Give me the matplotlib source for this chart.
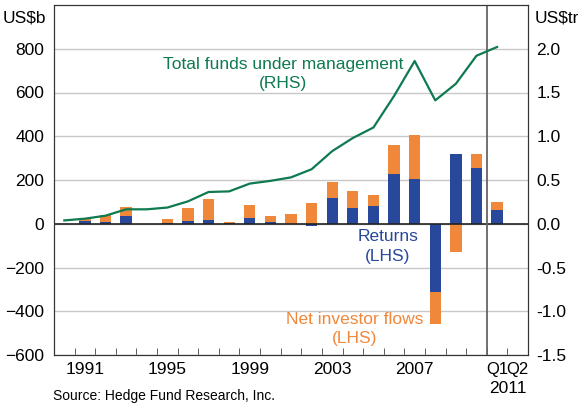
import matplotlib
matplotlib.use("Agg")
import matplotlib.pyplot as plt
import numpy as np

plt.rcParams['font.family'] = ['Liberation Sans', 'DejaVu Sans']

categories = ['1990', '1991', '1992', '1993', '1994', '1995', '1996', '1997', '1998', '1999',
              '2000', '2001', '2002', '2003', '2004', '2005', '2006', '2007', '2008', '2009',
              '2010', 'Q1', 'Q2']
returns = [0, 12, 6, 34, 0, 2, 11, 15, 2, 25,
           6, 0, -12, 119, 73, 83, 229, 206, -310, 321,
           257, 64, 0]
flows = [0, 10, 34, 41, 0, 18, 59, 96, 4, 59,
         28, 46, 96, 74, 78, 50, 129, 198, -150, -131,
         60, 37, 0]
funds = [0.038, 0.058, 0.092, 0.165, 0.165, 0.185, 0.256, 0.363, 0.37, 0.459,
         0.49, 0.53, 0.623, 0.83, 0.98, 1.10, 1.46, 1.86, 1.41, 1.60,
         1.92, 2.02, None]
tick_labels = {1: '1991', 5: '1995', 9: '1999', 13: '2003', 17: '2007', 21: 'Q1', 22: 'Q2'}

BLUE = '#28489C'
ORANGE = '#F0883C'
GREEN = '#0E7A50'
FS = 12.5

fig = plt.figure(figsize=(5.78, 4.04), dpi=100)
ax = fig.add_axes([54/578, 49/404, (528-54)/578, (355-5)/404])

x = np.arange(len(categories))
r = np.array(returns, dtype=float)
f = np.array(flows, dtype=float)
bottom_f = np.where(np.sign(r) == np.sign(f), r, 0.0)

ax.set_ylim(-600, 1000)
ax.set_xlim(-0.5, len(categories) - 0.5)
ax.set_yticks(np.arange(-600, 801, 200))
ax.yaxis.grid(True, color='#c8c8c8', lw=1.0)
ax.set_axisbelow(True)

w = 0.55
ax.bar(x, r, width=w, color=BLUE, zorder=2)
ax.bar(x, f, width=w, bottom=bottom_f, color=ORANGE, zorder=2)
ax.axhline(0, color='#222222', lw=1.2, zorder=3)
ax.axvline(20.5, color='#666666', lw=1.3, zorder=3)

ax.set_xticks(list(tick_labels.keys()))
ax.set_xticklabels(list(tick_labels.values()), fontsize=FS)
for lbl in ax.get_xticklabels():
    if lbl.get_text().startswith('Q'):
        lbl.set_fontsize(12)
ax.set_xticks(np.arange(0.5, len(categories) - 0.5, 1.0), minor=True)
ax.tick_params(axis='x', which='major', length=0, pad=5)
ax.tick_params(axis='x', which='minor', direction='in', length=5, color='#444444')
ax.tick_params(axis='y', length=0, labelsize=FS, pad=7)

for s in ax.spines.values():
    s.set_color('#333333')

ax2 = ax.twinx()
ax2.set_ylim(-1.5, 2.5)
ax2.set_yticks(np.arange(-1.5, 2.01, 0.5))
ax2.set_yticklabels(['%.1f' % v for v in np.arange(-1.5, 2.01, 0.5)])
ax2.tick_params(axis='y', length=0, labelsize=FS, pad=6)
xf = [i for i, v in enumerate(funds) if v is not None]
yf = [v for v in funds if v is not None]
ax2.plot(xf, yf, color=GREEN, lw=1.6, zorder=4)
for s in ax2.spines.values():
    s.set_color('#333333')

fig.text(46/578, 1 - 18/404, 'US$b', fontsize=FS, ha='right', va='center')
fig.text(535/578, 1 - 18/404, 'US$tr', fontsize=FS, ha='left', va='center')

ax.annotate('2011', xy=(21.5, 0), xycoords=('data', 'axes fraction'),
            xytext=(0, -19), textcoords='offset points', ha='center', va='top', fontsize=FS)

ax.text(10.6, 729, 'Total funds under management', color=GREEN, fontsize=FS,
        ha='center', va='center')
ax.text(10.6, 642, '(RHS)', color=GREEN, fontsize=FS, ha='center', va='center')
ax.text(15.7, -60, 'Returns', color=BLUE, fontsize=FS, ha='center', va='center')
ax.text(15.7, -151, '(LHS)', color=BLUE, fontsize=FS, ha='center', va='center')
ax.text(14.1, -440, 'Net investor flows', color=ORANGE, fontsize=FS, ha='center', va='center')
ax.text(14.1, -523, '(LHS)', color=ORANGE, fontsize=FS, ha='center', va='center')

fig.text(53/578, 1 - 396/404, 'Source: Hedge Fund Research, Inc.', fontsize=10,
         ha='left', va='center')

fig.savefig('out.png', dpi=100)
